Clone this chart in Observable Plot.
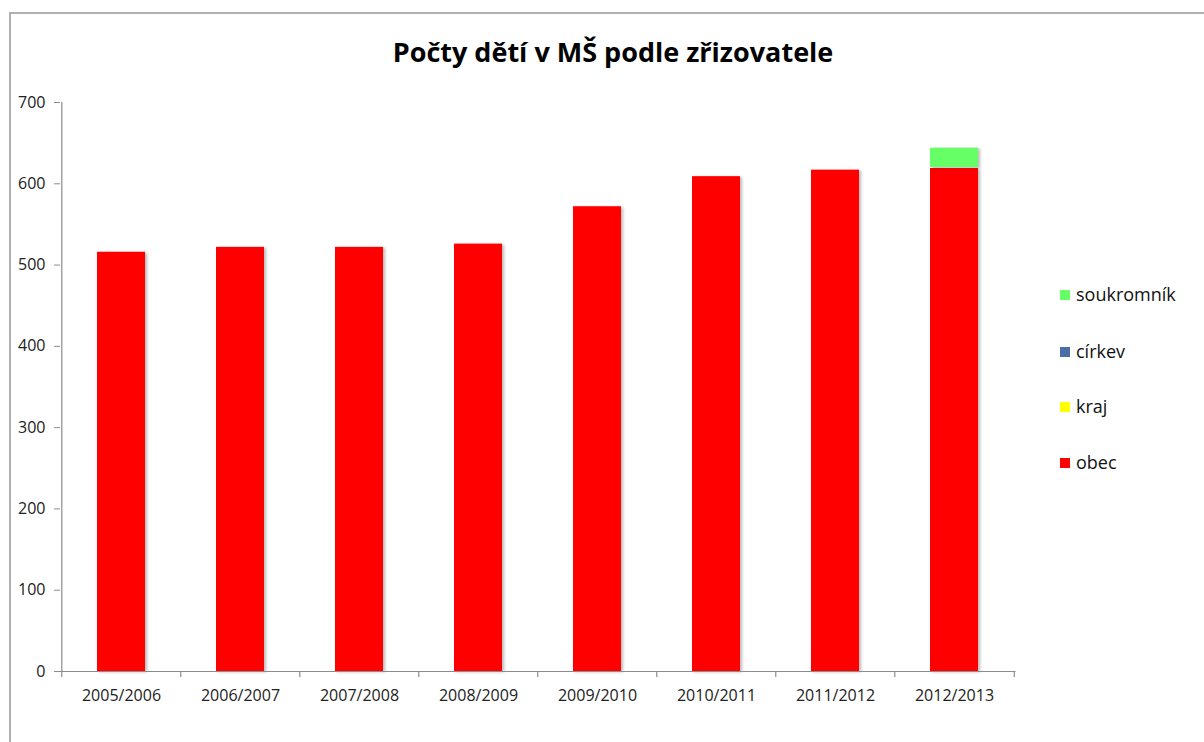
<!DOCTYPE html>
<html>
<head>
<meta charset="utf-8">
<script src="https://cdn.jsdelivr.net/npm/d3@7"></script>
<script src="https://cdn.jsdelivr.net/npm/@observablehq/plot@0.6"></script>
<style>
  html, body { margin: 0; padding: 0; background: #fff; }
  body { width: 1204px; height: 742px; position: relative; overflow: hidden; font-family: "Open Sans", sans-serif; }
  #frame { position: absolute; left: 9px; top: 12px; width: 1300px; height: 800px; border-top: 2px solid #b0b0b0; border-left: 2px solid #b0b0b0; z-index: 5; pointer-events: none; }
  #title { position: absolute; left: 0; top: 33px; width: 1226px; text-align: center; font-family: "Open Sans", sans-serif; font-weight: bold; font-size: 27px; color: #000; letter-spacing: 0; }
  #chart { position: absolute; left: 0; top: 80px; }
  #chart svg g[aria-label="bar"] rect { filter: drop-shadow(2px 1px 1.5px rgba(0,0,0,0.28)); }
  #legend { position: absolute; left: 1060px; top: 0; }
  .item { position: absolute; left: 0; white-space: nowrap; font-size: 18px; color: #111; line-height: 20px; }
  .item span.sw { position: absolute; left: 0; top: 5px; width: 10px; height: 10px; }
  .item span.lb { position: absolute; left: 16px; top: -1px; }
</style>
</head>
<body>
<div id="frame"></div>
<div id="title">Počty dětí v MŠ podle zřizovatele</div>
<div id="chart"></div>
<div id="legend"></div>
<script>
const categories = ["2005/2006", "2006/2007", "2007/2008", "2008/2009", "2009/2010", "2010/2011", "2011/2012", "2012/2013"];
const obec       = [517, 523, 523, 527, 573, 610, 618, 620];
const kraj       = [0, 0, 0, 0, 0, 0, 0, 0];
const cirkev     = [0, 0, 0, 0, 0, 0, 0, 0];
const soukromnik = [0, 0, 0, 0, 0, 0, 0, 25];
const seriesNames  = ["obec", "kraj", "církev", "soukromník"];
const seriesColors = ["#ff0000", "#ffff00", "#4a6fa8", "#66ff66"];
const yTicks = [0, 100, 200, 300, 400, 500, 600, 700];

const seriesValues = [obec, kraj, cirkev, soukromnik];
const rows = [];
seriesNames.forEach((s, si) => categories.forEach((c, ci) => rows.push({cat: c, series: s, order: si, value: seriesValues[si][ci]})));

const width = 1204, height = 662;
const marginLeft = 60, marginRight = 188.5, marginTop = 22, marginBottom = 71;
const step = (width - marginLeft - marginRight) / categories.length;
const half = step / 2;

const chart = Plot.plot({
  width, height, marginLeft, marginRight, marginTop, marginBottom,
  style: {fontFamily: "'Open Sans', sans-serif", fontSize: "16px", color: "#222", background: "transparent"},
  x: {domain: categories, paddingInner: 0.6, paddingOuter: 0.3, label: null},
  y: {domain: [0, 700], ticks: yTicks, label: null},
  color: {domain: seriesNames, range: seriesColors},
  marks: [
    Plot.barY(rows, Plot.stackY({order: "order"}, {x: "cat", y: "value", fill: "series", insetTop: 1})),
    // y axis line
    Plot.ruleX([categories[0]], {x: d => d, dx: -half, y1: 0, y2: 700, stroke: "#8c8c8c", strokeWidth: 1.2}),
    // x axis line
    Plot.ruleY([0], {stroke: "#8c8c8c", strokeWidth: 1.2}),
    // category boundary ticks
    Plot.ruleX(categories, {x: d => d, dx: -half, y1: 0, y2: 0, insetBottom: -6, stroke: "#8c8c8c", strokeWidth: 1.2}),
    Plot.ruleX([categories[categories.length - 1]], {x: d => d, dx: half, y1: 0, y2: 0, insetBottom: -6, stroke: "#8c8c8c", strokeWidth: 1.2}),
    Plot.axisY({ticks: yTicks, tickSize: 6, tickPadding: 9, stroke: "#8c8c8c", label: null, fill: "#222"}),
    Plot.axisX({tickSize: 0, tickPadding: 18, label: null, fill: "#222"})
  ]
});
document.getElementById("chart").appendChild(chart);

// legend (top to bottom: reverse stacking order)
const legend = document.getElementById("legend");
const legendY = [295, 352, 407, 463];
seriesNames.slice().reverse().forEach((s, i) => {
  const color = seriesColors[seriesNames.indexOf(s)];
  const div = document.createElement("div");
  div.className = "item";
  div.style.top = (legendY[i] - 10) + "px";
  div.innerHTML = `<span class="sw" style="background:${color}"></span><span class="lb">${s}</span>`;
  legend.appendChild(div);
});
</script>
</body>
</html>
